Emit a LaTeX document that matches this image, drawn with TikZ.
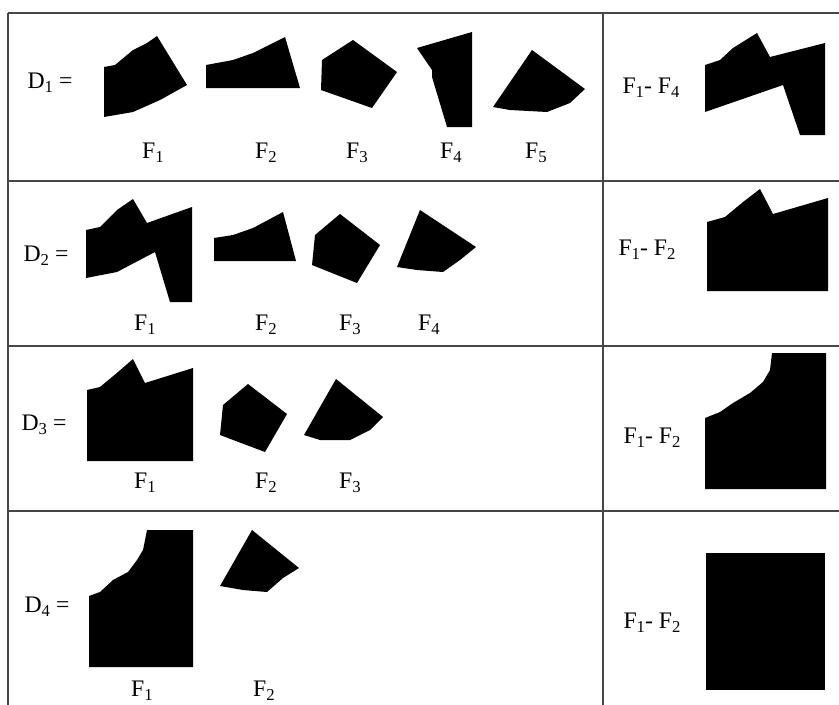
\documentclass[tikz,border=0pt]{standalone}
\usepackage{fontspec}
\setmainfont{Liberation Serif}
\usepackage{tikz}

\newcommand{\lowsub}[1]{\raisebox{-0.45ex}{\fontsize{9.5}{10}\selectfont #1}}

\tikzset{
    blob/.style={fill=black},
    rule/.style={draw=black!72, line width=1.25pt},
    lbl/.style={anchor=base, inner sep=0pt, font=\fontsize{13.5}{16}\selectfont}
}

\begin{document}
\begin{tikzpicture}[x=0.02cm, y=-0.02cm]
    \useasboundingbox (0,0) rectangle (839,704);
    \clip (0,0) rectangle (839,704);

    % Draw table
    \draw[rule] (8,13) -- (850,13);
    \draw[rule] (8,181) -- (850,181);
    \draw[rule] (8,346) -- (850,346);
    \draw[rule] (8,511) -- (850,511);
    \draw[rule] (8,13) -- (8,720);
    \draw[rule] (603,13) -- (603,720);

    % Row 1
    \node[lbl] (r1d) at (50,88) {D\lowsub{1} =};
    \fill[blob] (104,117) -- (104,67) -- (115,65) -- (133,50) -- (147,43) -- (157,36) -- (187,85) -- (160,100) -- (133,112) -- cycle;
    \fill[blob] (206,65) -- (206,88) -- (300,88) -- (285,37) -- (253,53) -- (233,60) -- cycle;
    \fill[blob] (322,60) -- (353,40) -- (397,72) -- (372,108) -- (321,90) -- cycle;
    \fill[blob] (417,48) -- (472,32) -- (472,127) -- (447,127) -- (432,77) -- (432,70) -- cycle;
    \fill[blob] (532,50) -- (585,89) -- (570,103) -- (547,112) -- (510,110) -- (493,107) -- cycle;
    \node[lbl] (r1f1) at (153,158) {F\lowsub{1}};
    \node[lbl] (r1f2) at (266,158) {F\lowsub{2}};
    \node[lbl] (r1f3) at (357,158) {F\lowsub{3}};
    \node[lbl] (r1f4) at (451,158) {F\lowsub{4}};
    \node[lbl] (r1f5) at (536,158) {F\lowsub{5}};
    \node[lbl] (r1u) at (651,93) {F\lowsub{1}- F\lowsub{4}};
    \fill[blob] (705,65) -- (705,112) -- (783,85) -- (800,135) -- (825,135) -- (825,43) -- (770,57) -- (757,33) -- (733,48) -- (720,60) -- cycle;

    % Row 2
    \node[lbl] (r2d) at (46,261) {D\lowsub{2} =};
    \fill[blob] (86,230) -- (86,278) -- (117,272) -- (155,252) -- (170,302) -- (192,302) -- (192,207) -- (147,223) -- (133,199) -- (117,210) -- (100,227) -- cycle;
    \fill[blob] (214,238) -- (214,261) -- (296,261) -- (283,212) -- (253,228) -- (233,235) -- cycle;
    \fill[blob] (315,235) -- (340,214) -- (380,245) -- (357,283) -- (312,265) -- cycle;
    \fill[blob] (420,210) -- (476,247) -- (460,260) -- (443,272) -- (417,270) -- (397,267) -- cycle;
    \node[lbl] (r2f1) at (145,330) {F\lowsub{1}};
    \node[lbl] (r2f2) at (266,330) {F\lowsub{2}};
    \node[lbl] (r2f3) at (350,330) {F\lowsub{3}};
    \node[lbl] (r2f4) at (429,330) {F\lowsub{4}};
    \node[lbl] (r2u) at (647,255) {F\lowsub{1}- F\lowsub{2}};
    \fill[blob] (707,222) -- (707,291) -- (828,291) -- (828,198) -- (773,214) -- (760,189) -- (743,202) -- (725,217) -- cycle;

    % Row 3
    \node[lbl] (r3d) at (44,430) {D\lowsub{3} =};
    \fill[blob] (87,390) -- (87,461) -- (193,461) -- (193,368) -- (145,383) -- (133,359) -- (118,372) -- (100,387) -- cycle;
    \fill[blob] (223,405) -- (248,384) -- (287,414) -- (265,452) -- (220,435) -- cycle;
    \fill[blob] (336,379) -- (383,417) -- (370,430) -- (350,440) -- (320,440) -- (304,435) -- cycle;
    \node[lbl] (r3f1) at (145,488) {F\lowsub{1}};
    \node[lbl] (r3f2) at (266,488) {F\lowsub{2}};
    \node[lbl] (r3f3) at (350,488) {F\lowsub{3}};
    \node[lbl] (r3u) at (652,443) {F\lowsub{1}- F\lowsub{2}};
    \fill[blob] (705,418) -- (705,489) -- (826,489) -- (826,353) -- (772,353) -- (770,370) -- (763,382) -- (750,393) -- (733,403) -- (720,412) -- cycle;

    % Row 4
    \node[lbl] (r4d) at (47,612) {D\lowsub{4} =};
    \fill[blob] (89,596) -- (89,667) -- (193,667) -- (193,530) -- (147,530) -- (143,550) -- (137,560) -- (128,572) -- (113,580) -- (100,592) -- cycle;
    \fill[blob] (252,530) -- (299,568) -- (283,578) -- (267,592) -- (243,590) -- (220,586) -- cycle;
    \node[lbl] (r4f1) at (142,696) {F\lowsub{1}};
    \node[lbl] (r4f2) at (264,696) {F\lowsub{2}};
    \node[lbl] (r4u) at (652,628) {F\lowsub{1}- F\lowsub{2}};
    \fill[blob] (706,553) rectangle (825,690);
\end{tikzpicture}
\end{document}
